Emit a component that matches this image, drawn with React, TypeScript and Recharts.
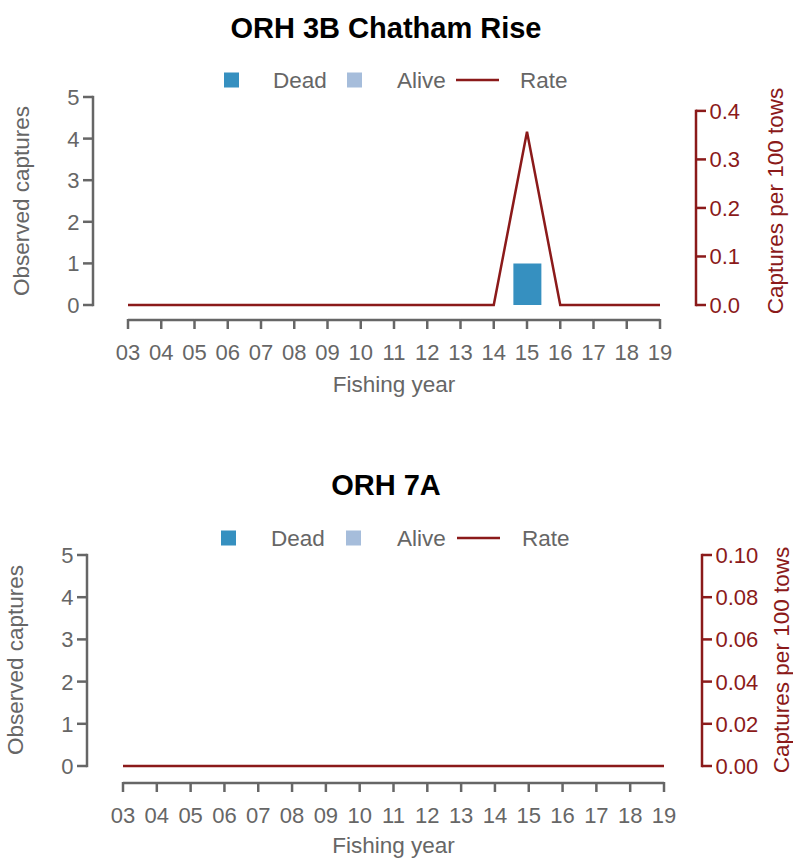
import { ComposedChart, Bar, Line, XAxis, YAxis } from "recharts";

const GREY = "#666666";
const RED = "#8b1a1a";
const DEAD = "#3690c0";
const ALIVE = "#a6bddb";
const FONT = "'Liberation Sans', Arial, Helvetica, sans-serif";

// fishing years 2003..2019
const years = [3, 4, 5, 6, 7, 8, 9, 10, 11, 12, 13, 14, 15, 16, 17, 18, 19];
const captureTicks = [0, 1, 2, 3, 4, 5];

// ORH 3B Chatham Rise
const chathamDead = [0, 0, 0, 0, 0, 0, 0, 0, 0, 0, 0, 0, 1, 0, 0, 0, 0];
const chathamAlive = [0, 0, 0, 0, 0, 0, 0, 0, 0, 0, 0, 0, 0, 0, 0, 0, 0];
const chathamRate = [0, 0, 0, 0, 0, 0, 0, 0, 0, 0, 0, 0, 0.357, 0, 0, 0, 0];
const chathamRateTicks = [0, 0.1, 0.2, 0.3, 0.4];

// ORH 7A
const orh7aDead = [0, 0, 0, 0, 0, 0, 0, 0, 0, 0, 0, 0, 0, 0, 0, 0, 0];
const orh7aAlive = [0, 0, 0, 0, 0, 0, 0, 0, 0, 0, 0, 0, 0, 0, 0, 0, 0];
const orh7aRate = [0, 0, 0, 0, 0, 0, 0, 0, 0, 0, 0, 0, 0, 0, 0, 0, 0];
const orh7aRateTicks = [0, 0.02, 0.04, 0.06, 0.08, 0.1];

const yearLabel = (v: number) => String(v).padStart(2, "0");

function XTick(props: any) {
  const { x, y, payload, index, visibleTicksCount, gap, step } = props;
  const ay = y + gap;
  return (
    <g>
      {index < visibleTicksCount - 1 && (
        <line x1={x} x2={x + step} y1={ay} y2={ay} stroke={GREY} strokeWidth={2.5} />
      )}
      <line x1={x} x2={x} y1={ay - 1} y2={ay + 9} stroke={GREY} strokeWidth={2.5} />
      <text x={x} y={ay + 40} textAnchor="middle" fill={GREY} fontSize={22} fontFamily={FONT}>
        {yearLabel(payload.value)}
      </text>
    </g>
  );
}

function YTick(props: any) {
  const { x, y, payload, index, side, span, color, digits } = props;
  const dir = side === "left" ? -1 : 1;
  return (
    <g>
      {index === 0 && <line x1={x} x2={x} y1={y + 1.2} y2={y - span - 1.2} stroke={color} strokeWidth={2.5} />}
      <line x1={x} x2={x + dir * 10} y1={y} y2={y} stroke={color} strokeWidth={2.5} />
      <text
        x={x + dir * 13.5}
        y={y + 8}
        textAnchor={side === "left" ? "end" : "start"}
        fill={color}
        fontSize={22}
        fontFamily={FONT}
      >
        {payload.value.toFixed(digits)}
      </text>
    </g>
  );
}

interface PanelProps {
  title: string;
  dead: number[];
  alive: number[];
  rate: number[];
  rateTicks: number[];
  rateMax: number;
  rateDigits: number;
  top: number;
  height: number;
  plotLeft: number;
  plotRight: number;
  plotTop: number;
  plotBottom: number;
  xFirst: number;
  xLast: number;
  gap: number;
}

function Panel(p: PanelProps) {
  const data = years.map((year, i) => ({ year, dead: p.dead[i], alive: p.alive[i], rate: p.rate[i] }));
  const plotH = p.plotBottom - p.plotTop;
  const step = (p.xLast - p.xFirst) / (years.length - 1);
  const rateSpan = (p.rateTicks[p.rateTicks.length - 1] / p.rateMax) * plotH;
  return (
    <div style={{ position: "absolute", left: 0, top: p.top }}>
      <ComposedChart width={793} height={p.height} data={data} margin={{ top: p.plotTop, right: 0, bottom: 0, left: 0 }}>
        <XAxis
          dataKey="year"
          type="number"
          domain={[3, 19]}
          ticks={years}
          interval={0}
          height={p.height - p.plotBottom}
          padding={{ left: p.xFirst - p.plotLeft, right: p.plotRight - p.xLast }}
          axisLine={false}
          tickLine={false}
          tickSize={0}
          tickMargin={0}
          tick={(t: any) => <XTick {...t} gap={p.gap} step={step} />}
        />
        <YAxis
          yAxisId="count"
          orientation="left"
          domain={[0, 5]}
          ticks={captureTicks}
          interval={0}
          width={p.plotLeft}
          axisLine={false}
          tickLine={false}
          tickSize={0}
          tickMargin={0}
          tick={(t: any) => <YTick {...t} side="left" span={plotH} color={GREY} digits={0} />}
        />
        <YAxis
          yAxisId="rate"
          orientation="right"
          domain={[0, p.rateMax]}
          ticks={p.rateTicks}
          interval={0}
          width={793 - p.plotRight}
          axisLine={false}
          tickLine={false}
          tickSize={0}
          tickMargin={0}
          tick={(t: any) => <YTick {...t} side="right" span={rateSpan} color={RED} digits={p.rateDigits} />}
        />
        <Bar yAxisId="count" dataKey="dead" stackId="c" fill={DEAD} barSize={28} isAnimationActive={false} />
        <Bar yAxisId="count" dataKey="alive" stackId="c" fill={ALIVE} barSize={28} isAnimationActive={false} />
        <Line
          yAxisId="rate"
          dataKey="rate"
          type="linear"
          stroke={RED}
          strokeWidth={2.5}
          dot={false}
          activeDot={false}
          isAnimationActive={false}
        />
      </ComposedChart>
    </div>
  );
}

function Decorations({ title, top, legendY, legendX, leftTitleX, rightTitleX, midY, xTitleX, xTitleY }: any) {
  const [deadSq, deadTxt, aliveSq, aliveTxt, lineStart, lineEnd, rateTxt] = legendX;
  const textStyle = { fontFamily: FONT, fontSize: 22.5, fill: GREY };
  return (
    <g>
      <text x={386} y={top} textAnchor="middle" fontFamily={FONT} fontSize={29} fontWeight="bold" fill="#000">
        {title}
      </text>
      <rect x={deadSq} y={legendY - 7.5} width={15} height={15} fill={DEAD} />
      <text x={deadTxt} y={legendY + 8} {...textStyle}>Dead</text>
      <rect x={aliveSq} y={legendY - 7.5} width={15} height={15} fill={ALIVE} />
      <text x={aliveTxt} y={legendY + 8} {...textStyle}>Alive</text>
      <line x1={lineStart} x2={lineEnd} y1={legendY} y2={legendY} stroke={RED} strokeWidth={2.5} />
      <text x={rateTxt} y={legendY + 8} {...textStyle}>Rate</text>
      <text x={leftTitleX} y={midY} transform={`rotate(-90 ${leftTitleX} ${midY})`} textAnchor="middle" {...textStyle}>
        Observed captures
      </text>
      <text
        x={rightTitleX}
        y={midY}
        transform={`rotate(-90 ${rightTitleX} ${midY})`}
        textAnchor="middle"
        {...textStyle}
        fill={RED}
      >
        Captures per 100 tows
      </text>
      <text x={xTitleX} y={xTitleY} textAnchor="middle" {...textStyle}>
        Fishing year
      </text>
    </g>
  );
}

export default function App() {
  return (
    <div style={{ position: "absolute", left: 0, top: 0, width: 793, height: 859, background: "#fff", overflow: "hidden" }}>
      <Panel
        title="ORH 3B Chatham Rise"
        dead={chathamDead}
        alive={chathamAlive}
        rate={chathamRate}
        rateTicks={chathamRateTicks}
        rateMax={0.4286}
        rateDigits={1}
        top={0}
        height={430}
        plotLeft={93}
        plotRight={696}
        plotTop={97}
        plotBottom={305}
        xFirst={128}
        xLast={660}
        gap={15}
      />
      <Panel
        title="ORH 7A"
        dead={orh7aDead}
        alive={orh7aAlive}
        rate={orh7aRate}
        rateTicks={orh7aRateTicks}
        rateMax={0.1}
        rateDigits={2}
        top={430}
        height={429}
        plotLeft={87}
        plotRight={702}
        plotTop={125}
        plotBottom={336}
        xFirst={123}
        xLast={664}
        gap={17}
      />
      <svg width={793} height={859} style={{ position: "absolute", left: 0, top: 0, pointerEvents: "none" }}>
        <Decorations
          title="ORH 3B Chatham Rise"
          top={38}
          legendY={80}
          legendX={[224, 273, 347, 397, 456, 499, 520]}
          leftTitleX={29}
          rightTitleX={783}
          midY={201}
          xTitleX={394}
          xTitleY={392}
        />
        <Decorations
          title="ORH 7A"
          top={495}
          legendY={538}
          legendX={[221, 271, 346, 397, 457, 500, 522]}
          leftTitleX={23}
          rightTitleX={789}
          midY={660}
          xTitleX={393.5}
          xTitleY={853}
        />
      </svg>
    </div>
  );
}
